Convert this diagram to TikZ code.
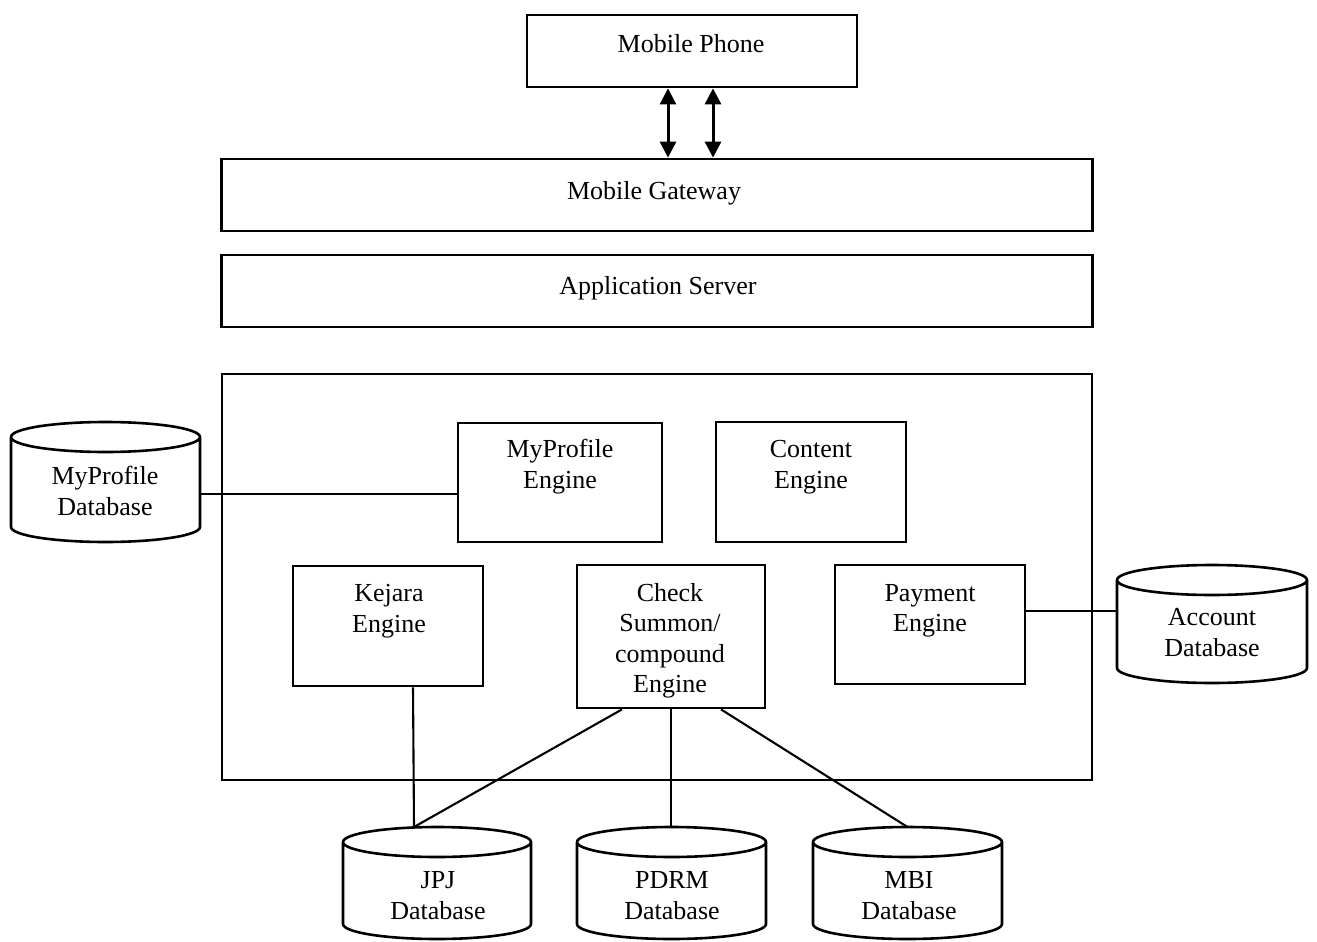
\documentclass[tikz,border=0pt]{standalone}
\usepackage{fontspec}
\setmainfont{Liberation Serif}
\usetikzlibrary{arrows.meta,calc}
\tikzset{
  box/.style={draw, line width=2.8pt, inner sep=0pt},
  ghost/.style={inner sep=0pt, outer sep=0pt},
  cyl/.style={line width=2.6pt},
  conn/.style={line width=2.1pt},
  thinconn/.style={line width=1.6pt},
  dblarrow/.style={line width=3pt, {Triangle[width=16pt,length=16pt]}-{Triangle[width=16pt,length=16pt]}},
  lbl/.style={font=\fontsize{26}{30.5}\selectfont, align=center, inner sep=0pt}
}
\newcommand{\dbcyl}[2]{%
  \draw[cyl] ([yshift=-15pt]#1.north west) -- ([yshift=15pt]#1.south west)
    arc[start angle=180, end angle=360, x radius=#2, y radius=15pt]
    -- ([yshift=-15pt]#1.north east)
    arc[start angle=0, end angle=180, x radius=#2, y radius=15pt]
    ([yshift=-15pt]#1.north west)
    arc[start angle=180, end angle=360, x radius=#2, y radius=15pt];}
\begin{document}
\begin{tikzpicture}[x=1pt, y=-1pt]
\useasboundingbox (0,0) rectangle (1317,942);
% top layers
\node[box, minimum width=330pt, minimum height=72pt] (phone) at (692,51) {};
\node[box, minimum width=871pt, minimum height=72pt] (gw) at (657,195) {};
\node[box, minimum width=871pt, minimum height=72pt] (app) at (657,291) {};
\node[box, minimum width=870pt, minimum height=406pt] (big) at (657,577) {};
% engines
\node[box, minimum width=204pt, minimum height=119pt] (mpe) at (560,482.5) {};
\node[box, minimum width=190pt, minimum height=120pt] (ce) at (811,482) {};
\node[box, minimum width=190pt, minimum height=120pt] (kej) at (388,626) {};
\node[box, minimum width=188pt, minimum height=143pt] (chk) at (671,636.5) {};
\node[box, minimum width=190pt, minimum height=119pt] (pay) at (930,624.5) {};
% databases
\node[ghost, minimum width=189pt, minimum height=120pt] (mpdb) at (105.5,482) {};
\node[ghost, minimum width=190pt, minimum height=118pt] (accdb) at (1212,624) {};
\node[ghost, minimum width=188pt, minimum height=112pt] (jpj) at (437,883) {};
\node[ghost, minimum width=189pt, minimum height=112pt] (pdrm) at (671.5,883) {};
\node[ghost, minimum width=189pt, minimum height=112pt] (mbi) at (907.5,883) {};
\dbcyl{mpdb}{94.5pt}
\dbcyl{accdb}{95pt}
\dbcyl{jpj}{94pt}
\dbcyl{pdrm}{94.5pt}
\dbcyl{mbi}{94.5pt}
% labels
\node[lbl] (tphone) at (691,46) {\strut Mobile Phone};
\node[lbl] (tgw) at (654,193) {\strut Mobile Gateway};
\node[lbl] (tapp) at (658,288) {\strut Application Server};
\node[lbl] (tmpe) at (560,467) {\strut MyProfile\\\strut Engine};
\node[lbl] (tce) at (811,467) {\strut Content\\\strut Engine};
\node[lbl] (tkej) at (389,611) {\strut Kejara\\\strut Engine};
\node[lbl] (tchk) at (670,641) {\strut Check\\\strut Summon/\\\strut compound\\\strut Engine};
\node[lbl] (tpay) at (930,610.5) {\strut Payment\\\strut Engine};
\node[lbl] (tmpdb) at (105,494) {\strut MyProfile\\\strut Database};
\node[lbl] (tacc) at (1212,635) {\strut Account\\\strut Database};
\node[lbl] (tjpj) at (438,898) {\strut JPJ\\\strut Database};
\node[lbl] (tpdrm) at (672,898) {\strut PDRM\\\strut Database};
\node[lbl] (tmbi) at (909,898) {\strut MBI\\\strut Database};
% arrows phone <-> gateway
\coordinate (a1) at ($(phone.south)+(-24,0)$);
\coordinate (a2) at ($(phone.south)+(21,0)$);
\draw[dblarrow] (a1) -- (a1 |- gw.north);
\draw[dblarrow] (a2) -- (a2 |- gw.north);
% connectors
\draw[conn] ($(mpdb.east)+(0,12)$) -- ($(mpe.west)+(0,11.5)$);
\draw[thinconn] ($(pay.east)+(0,-13.5)$) -- ($(accdb.west)+(0,-13)$);
\coordinate (jtop) at ($(jpj.north)+(-23,0)$);
\draw[conn] ($(kej.south)+(25,0)$) -- (jtop);
\draw[conn] ($(chk.south)+(-49,0)$) -- (jtop);
\draw[conn] (chk.south) -- (chk.south |- pdrm.north);
\draw[conn] ($(chk.south)+(50,0)$) -- (mbi.north);
\end{tikzpicture}
\end{document}
